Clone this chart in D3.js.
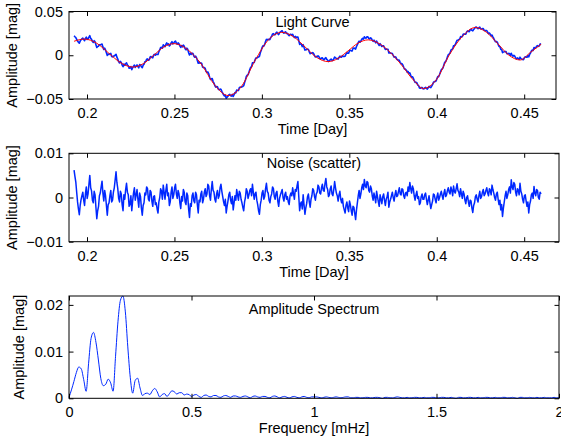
<!DOCTYPE html>
<html>
<head>
<meta charset="utf-8">
<script src="https://cdn.jsdelivr.net/npm/d3@7"></script>
<style>
  html, body { margin: 0; padding: 0; background: #fff; }
  svg { display: block; font-family: "Liberation Sans", Arial, Helvetica, sans-serif; }
</style>
</head>
<body>
<svg id="chart" width="561" height="444"></svg>
<script>
// ---------- data ----------
// Fitted light-curve model (red): knot times [day] and magnitudes
const modelTime = [0.1926, 0.1955, 0.1985, 0.2055, 0.2124, 0.2194, 0.2263, 0.2322, 0.2381, 0.2439,
  0.2498, 0.2575, 0.2653, 0.2730, 0.2807, 0.2884, 0.2961, 0.3037, 0.3114, 0.3180,
  0.3247, 0.3313, 0.3379, 0.3436, 0.3494, 0.3551, 0.3608, 0.3677, 0.3791, 0.3865,
  0.3924, 0.3998, 0.4072, 0.4146, 0.4220, 0.4284, 0.4349, 0.4413, 0.4477, 0.4537, 0.4597];
const modelMag = [0.0160, 0.0177, 0.0185, 0.0138, 0.0025, -0.0088, -0.0135, -0.0096, -0.0001, 0.0094,
  0.0133, 0.0065, -0.0100, -0.0340, -0.0460, -0.0354, -0.0060, 0.0175, 0.0262, 0.0213,
  0.0095, -0.0024, -0.0073, -0.0036, 0.0052, 0.0140, 0.0176, 0.0125, -0.0092, -0.0280,
  -0.0380, -0.0278, 0.0005, 0.0215, 0.0317, 0.0263, 0.0132, 0.0000, -0.0054, 0.0035, 0.0126];

// Residual scatter [mag], one sample per 0.0005 day starting at obsStart
const obsStart = 0.1926;
const obsStep = 0.0005;
const noise = [
  0.0062, 0.0048, 0.0035, 0.0012, -0.0010, -0.0026, -0.0039, -0.0018, -0.0005, 0.0004,
  0.0012, -0.0006, -0.0018, 0.0008, 0.0024, -0.0002, 0.0008, 0.0030, 0.0050, 0.0022,
  0.0015, -0.0006, -0.0012, 0.0014, 0.0006, -0.0022, -0.0048, -0.0030, -0.0020, 0.0004,
  0.0010, 0.0024, 0.0037, 0.0010, -0.0008, 0.0016, 0.0004, -0.0018, -0.0040, -0.0016,
  -0.0012, 0.0004, 0.0016, -0.0010, -0.0006, 0.0012, 0.0022, 0.0040, 0.0058, 0.0034,
  0.0020, -0.0002, -0.0010, 0.0014, 0.0008, -0.0016, -0.0030, 0.0006, -0.0004, 0.0018,
  0.0032, 0.0012, 0.0006, -0.0020, -0.0015, 0.0004, -0.0030, -0.0008, 0.0010, 0.0022,
  -0.0006, 0.0006, 0.0018, -0.0004, -0.0022, 0.0010, 0.0002, -0.0024, -0.0040, -0.0018,
  -0.0012, 0.0010, 0.0006, 0.0024, 0.0020, -0.0004, -0.0008, 0.0016, 0.0012, -0.0008,
  -0.0020, 0.0002, 0.0004, -0.0016, -0.0012, -0.0026, -0.0035, -0.0010, 0.0000, 0.0020,
  0.0014, -0.0004, 0.0028, 0.0012, -0.0004, 0.0016, 0.0030, 0.0004, 0.0010, -0.0018,
  -0.0010, 0.0012, 0.0024, -0.0002, 0.0006, 0.0022, 0.0030, 0.0008, -0.0002, 0.0016,
  0.0008, -0.0012, -0.0025, 0.0002, -0.0008, 0.0018, 0.0012, -0.0010, -0.0016, 0.0010,
  0.0004, -0.0026, -0.0045, -0.0014, -0.0020, 0.0004, 0.0010, -0.0008, -0.0012, 0.0012,
  0.0006, -0.0016, -0.0035, -0.0006, -0.0010, 0.0008, 0.0014, -0.0012, -0.0004, 0.0012,
  0.0020, 0.0002, 0.0008, 0.0030, 0.0026, 0.0004, -0.0006, 0.0018, 0.0036, 0.0016,
  0.0012, -0.0004, -0.0010, 0.0008, 0.0016, -0.0002, 0.0004, 0.0022, 0.0030, 0.0014,
  0.0002, -0.0010, -0.0018, -0.0004, -0.0035, -0.0020, -0.0008, 0.0006, 0.0012, -0.0006,
  -0.0014, 0.0002, -0.0028, -0.0012, 0.0004, -0.0006, 0.0018, 0.0006, -0.0006, 0.0014,
  0.0010, -0.0004, -0.0012, -0.0022, -0.0030, -0.0010, 0.0000, 0.0020, 0.0014, -0.0002,
  0.0006, 0.0016, 0.0020, 0.0004, 0.0030, 0.0012, -0.0004, 0.0008, 0.0012, -0.0006,
  -0.0016, -0.0030, -0.0038, -0.0016, -0.0006, 0.0010, 0.0016, -0.0004, 0.0002, 0.0020,
  0.0032, 0.0014, 0.0010, -0.0006, -0.0012, 0.0002, 0.0008, 0.0024, 0.0020, 0.0002,
  -0.0004, 0.0010, 0.0014, -0.0008, -0.0020, -0.0002, 0.0006, 0.0012, 0.0018, 0.0000,
  -0.0008, 0.0006, 0.0012, -0.0004, 0.0002, -0.0010, -0.0016, 0.0004, 0.0010, 0.0004,
  0.0022, 0.0008, -0.0004, 0.0018, 0.0014, 0.0026, 0.0036, 0.0002, -0.0030, -0.0014,
  -0.0010, -0.0026, 0.0006, -0.0016, -0.0038, -0.0024, -0.0014, 0.0002, 0.0008, -0.0010,
  -0.0022, -0.0004, 0.0004, 0.0020, 0.0016, 0.0002, -0.0006, 0.0008, 0.0012, 0.0028,
  0.0024, 0.0010, 0.0008, 0.0022, 0.0030, 0.0016, 0.0014, 0.0032, 0.0043, 0.0024,
  0.0018, 0.0002, 0.0006, 0.0020, 0.0026, 0.0008, 0.0004, 0.0018, 0.0036, 0.0022,
  0.0010, 0.0004, -0.0008, 0.0006, 0.0014, -0.0004, -0.0012, -0.0002, -0.0020, -0.0028,
  -0.0035, -0.0018, -0.0010, -0.0024, -0.0032, -0.0008, -0.0016, -0.0030, -0.0040, -0.0020,
  -0.0022, -0.0036, -0.0050, -0.0028, -0.0012, 0.0004, 0.0016, -0.0002, 0.0008, 0.0022,
  0.0030, 0.0018, 0.0041, 0.0026, 0.0022, 0.0036, 0.0034, 0.0016, 0.0012, 0.0026,
  0.0020, 0.0004, -0.0006, 0.0010, 0.0000, -0.0012, 0.0014, 0.0002, -0.0010, -0.0020,
  0.0006, -0.0004, -0.0014, 0.0002, 0.0008, -0.0006, -0.0018, -0.0004, 0.0002, 0.0012,
  -0.0022, -0.0010, -0.0004, 0.0004, 0.0012, 0.0000, -0.0008, 0.0006, 0.0016, 0.0002,
  0.0004, 0.0014, 0.0022, 0.0008, 0.0006, 0.0020, 0.0018, 0.0004, -0.0002, 0.0010,
  0.0012, 0.0004, 0.0024, 0.0014, 0.0034, 0.0020, 0.0010, 0.0026, 0.0020, 0.0004,
  -0.0006, 0.0006, 0.0014, -0.0002, 0.0002, -0.0016, -0.0012, 0.0002, 0.0008, -0.0004,
  -0.0004, 0.0006, 0.0010, -0.0004, -0.0016, -0.0006, 0.0004, -0.0012, -0.0025, -0.0016,
  -0.0008, 0.0008, 0.0006, -0.0004, -0.0012, 0.0002, 0.0010, -0.0006, 0.0000, 0.0008,
  0.0014, 0.0004, -0.0004, 0.0010, 0.0018, 0.0002, 0.0006, 0.0016, 0.0022, 0.0012,
  0.0008, 0.0024, 0.0016, 0.0004, 0.0026, 0.0014, 0.0010, 0.0020, 0.0031, 0.0016,
  0.0012, 0.0002, 0.0020, 0.0008, -0.0002, 0.0014, 0.0008, -0.0006, -0.0014, 0.0000,
  0.0004, -0.0010, -0.0020, -0.0006, -0.0008, -0.0024, -0.0034, -0.0018, -0.0012, 0.0002,
  0.0006, -0.0004, -0.0010, 0.0004, 0.0014, -0.0002, 0.0002, 0.0012, 0.0018, 0.0004,
  0.0008, 0.0016, 0.0022, 0.0010, 0.0004, 0.0020, 0.0016, 0.0006, 0.0028, 0.0018,
  0.0010, 0.0000, -0.0006, 0.0008, 0.0012, -0.0004, -0.0016, -0.0006, -0.0028, -0.0016,
  -0.0043, -0.0024, -0.0010, 0.0004, 0.0014, -0.0002, 0.0006, 0.0018, 0.0024, 0.0010,
  0.0040, 0.0024, 0.0018, 0.0034, 0.0030, 0.0012, 0.0004, 0.0020, 0.0016, 0.0006,
  0.0032, 0.0014, 0.0008, -0.0004, -0.0012, 0.0004, 0.0006, -0.0008, -0.0020, -0.0010,
  -0.0035, -0.0016, -0.0008, 0.0006, 0.0010, -0.0002, 0.0025, 0.0010, 0.0004, 0.0018,
  0.0016, 0.0000, -0.0004, 0.0012, 0.0008
];

// Amplitude spectrum [mag], one value per 0.01 mHz from 0 to 2 mHz
const freqStep = 0.01;
const spectrum = [
  0.0002, 0.0018, 0.0036, 0.0055, 0.0067, 0.0063, 0.0040, 0.0015, 0.0075, 0.0128,
  0.0141, 0.0120, 0.0082, 0.0042, 0.0027, 0.0030, 0.0041, 0.0033, 0.0015, 0.0090,
  0.0165, 0.0210, 0.0219, 0.0185, 0.0110, 0.0045, 0.0011, 0.0038, 0.0043, 0.0022,
  0.0006, 0.0010, 0.0011, 0.0008, 0.0016, 0.0021, 0.0014, 0.0003, 0.0008, 0.0010,
  0.0004, 0.0010, 0.0016, 0.0014, 0.0009, 0.0012, 0.0012, 0.0007, 0.0009, 0.0008,
  0.0004,
  0.0007, 0.0008, 0.0004, 0.0002, 0.0006, 0.0007, 0.0004, 0.0003, 0.0006, 0.0006,
  0.0003, 0.0002, 0.0005, 0.0006, 0.0004, 0.0002, 0.0005, 0.0005, 0.0003, 0.0002,
  0.0004, 0.0005, 0.0003, 0.0001, 0.0004, 0.0005, 0.0003, 0.0002, 0.0004, 0.0004,
  0.0002, 0.0001, 0.0004, 0.0005, 0.0003, 0.0001, 0.0003, 0.0004, 0.0002, 0.0001,
  0.0003, 0.0004, 0.0002, 0.0001, 0.0003, 0.0004, 0.0002, 0.0001, 0.0003, 0.0003,
  0.0003, 0.0002, 0.0001, 0.0002, 0.0003, 0.0002, 0.0001, 0.0002, 0.0003, 0.0002,
  0.0001, 0.0002, 0.0003, 0.0003, 0.0001, 0.0001, 0.0002, 0.0002, 0.0001, 0.0001,
  0.0002, 0.0002, 0.0001, 0.0001, 0.0002, 0.0002, 0.0001, 0.0000, 0.0002, 0.0002,
  0.0001, 0.0001, 0.0002, 0.0003, 0.0002, 0.0001, 0.0001, 0.0002, 0.0001, 0.0001,
  0.0002, 0.0002, 0.0001, 0.0001, 0.0002, 0.0001, 0.0001, 0.0002, 0.0002, 0.0001,
  0.0001, 0.0002, 0.0002, 0.0001, 0.0001, 0.0002, 0.0001, 0.0000, 0.0002, 0.0002,
  0.0001, 0.0001, 0.0002, 0.0002, 0.0001, 0.0001, 0.0002, 0.0001, 0.0001, 0.0002,
  0.0002, 0.0001, 0.0001, 0.0002, 0.0001, 0.0001, 0.0002, 0.0002, 0.0001, 0.0001,
  0.0002, 0.0001, 0.0000, 0.0002, 0.0002, 0.0001, 0.0001, 0.0002, 0.0001, 0.0001,
  0.0002, 0.0001, 0.0001, 0.0002, 0.0001, 0.0001, 0.0001, 0.0002, 0.0001, 0.0001
];

// Tick values
const timeTicks = [0.2, 0.25, 0.3, 0.35, 0.4, 0.45];
const lcTicks = [-0.05, 0, 0.05];
const noiseTicks = [-0.01, 0, 0.01];
const freqTicks = [0, 0.5, 1, 1.5, 2];
const specTicks = [0, 0.01, 0.02];

// Text
const titles = ["Light Curve", "Noise (scatter)", "Amplitude Spectrum"];
const yLabel = "Amplitude [mag]";
const xLabels = ["Time [Day]", "Time [Day]", "Frequency [mHz]"];

// ---------- layout ----------
const FONT = 14.5;
const TICK = 4.5;
const BLUE = "#0028ff";
const RED = "#ff0000";

const svg = d3.select("#chart");
const fmt = d3.format("~g");

// Monotone cubic evaluation matching d3.curveMonotoneX, so the observed
// points sit on the same model curve that is drawn in red.
function monotoneModel(xs, ys) {
  const n = xs.length, h = [], s = [], m = new Array(n);
  const sgn = v => (v < 0 ? -1 : 1);
  for (let i = 0; i < n - 1; i++) { h[i] = xs[i + 1] - xs[i]; s[i] = (ys[i + 1] - ys[i]) / h[i]; }
  for (let i = 1; i < n - 1; i++) {
    const p = (s[i - 1] * h[i] + s[i] * h[i - 1]) / (h[i - 1] + h[i]);
    m[i] = (sgn(s[i - 1]) + sgn(s[i])) * Math.min(Math.abs(s[i - 1]), Math.abs(s[i]), 0.5 * Math.abs(p)) || 0;
  }
  m[0] = (3 * s[0] - m[1]) / 2;
  m[n - 1] = (3 * s[n - 2] - m[n - 2]) / 2;
  return t => {
    let i = d3.bisectRight(xs, t) - 1;
    i = Math.max(0, Math.min(n - 2, i));
    const u = (t - xs[i]) / h[i], u2 = u * u, u3 = u2 * u;
    return (2 * u3 - 3 * u2 + 1) * ys[i] + (u3 - 2 * u2 + u) * h[i] * m[i]
      + (-2 * u3 + 3 * u2) * ys[i + 1] + (u3 - u2) * h[i] * m[i + 1];
  };
}

function frame(box, x, y, xt, yt, title, xlab, ylabX, titleOff) {
  const [l, r, t, b] = box;
  const g = svg.append("g");
  const style = sel => {
    sel.select(".domain").remove();
    sel.attr("font-size", FONT).attr("font-family", null);
    sel.selectAll("line").attr("stroke", "#000");
    sel.selectAll("text").attr("fill", "#000");
  };
  g.append("g").attr("transform", `translate(0,${b})`)
    .call(d3.axisBottom(x).tickValues(xt).tickSizeInner(-TICK).tickSizeOuter(0).tickPadding(8.7).tickFormat(fmt))
    .call(style);
  g.append("g").attr("transform", `translate(0,${t})`)
    .call(d3.axisTop(x).tickValues(xt).tickSizeInner(-TICK).tickSizeOuter(0).tickFormat(""))
    .call(style);
  g.append("g").attr("transform", `translate(${l},0)`)
    .call(d3.axisLeft(y).tickValues(yt).tickSizeInner(-TICK).tickSizeOuter(0).tickPadding(6).tickFormat(fmt))
    .call(style);
  g.append("g").attr("transform", `translate(${r},0)`)
    .call(d3.axisRight(y).tickValues(yt).tickSizeInner(-TICK).tickSizeOuter(0).tickFormat(""))
    .call(style);
  g.append("rect").attr("x", l).attr("y", t).attr("width", r - l).attr("height", b - t)
    .attr("fill", "none").attr("stroke", "#000").attr("stroke-width", 1);
  g.append("text").attr("x", (l + r) / 2).attr("y", t + titleOff)
    .attr("text-anchor", "middle").attr("font-size", FONT).text(title);
  g.append("text").attr("x", (l + r) / 2).attr("y", b + 35)
    .attr("text-anchor", "middle").attr("font-size", FONT).text(xlab);
  g.append("text").attr("transform", `translate(${ylabX},${(t + b) / 2}) rotate(-90)`)
    .attr("text-anchor", "middle").attr("font-size", FONT).text(yLabel);
}

// ---------- panel 1: light curve ----------
const box1 = [69, 556, 11.5, 99];
const xTime = d3.scaleLinear().domain([0.2, 0.45]).range([87, 524.2]);
const y1 = d3.scaleLinear().domain([-0.05, 0.05]).range([box1[3], box1[2]]);
const model = monotoneModel(modelTime, modelMag);
const obs = noise.map((v, i) => {
  const t = obsStart + i * obsStep;
  return { t, v, m: model(t) + v };
});

svg.append("path").datum(obs)
  .attr("fill", "none").attr("stroke", BLUE).attr("stroke-width", 1.6)
  .attr("stroke-linejoin", "round")
  .attr("d", d3.line().x(d => xTime(d.t)).y(d => y1(d.m)));
svg.append("path").datum(modelTime.map((t, i) => [t, modelMag[i]]))
  .attr("fill", "none").attr("stroke", RED).attr("stroke-width", 1)
  .attr("d", d3.line().x(d => xTime(d[0])).y(d => y1(d[1])).curve(d3.curveMonotoneX));
frame(box1, xTime, y1, timeTicks, lcTicks, titles[0], xLabels[0], 17, 15.5);

// ---------- panel 2: residual noise ----------
const box2 = [69, 559, 153.3, 241.7];
const y2 = d3.scaleLinear().domain([-0.01, 0.01]).range([box2[3], box2[2]]);
svg.append("path").datum(obs)
  .attr("fill", "none").attr("stroke", BLUE).attr("stroke-width", 1.5)
  .attr("stroke-linejoin", "round")
  .attr("d", d3.line().x(d => xTime(d.t)).y(d => y2(d.v)));
frame(box2, xTime, y2, timeTicks, noiseTicks, titles[1], xLabels[1], 17, 15);

// ---------- panel 3: amplitude spectrum ----------
const box3 = [69, 559, 296, 398.3];
const xFreq = d3.scaleLinear().domain([0, 2]).range([box3[0], box3[1]]);
const y3 = d3.scaleLinear().domain([0, d3.max(spectrum)]).range([box3[3], box3[2]]);
svg.append("path").datum(spectrum.map((a, i) => [i * freqStep, a]))
  .attr("fill", "none").attr("stroke", BLUE).attr("stroke-width", 1)
  .attr("d", d3.line().x(d => xFreq(d[0])).y(d => y3(d[1])).curve(d3.curveMonotoneX));
frame(box3, xFreq, y3, freqTicks, specTicks, titles[2], xLabels[2], 24, 18);
</script>
</body>
</html>
